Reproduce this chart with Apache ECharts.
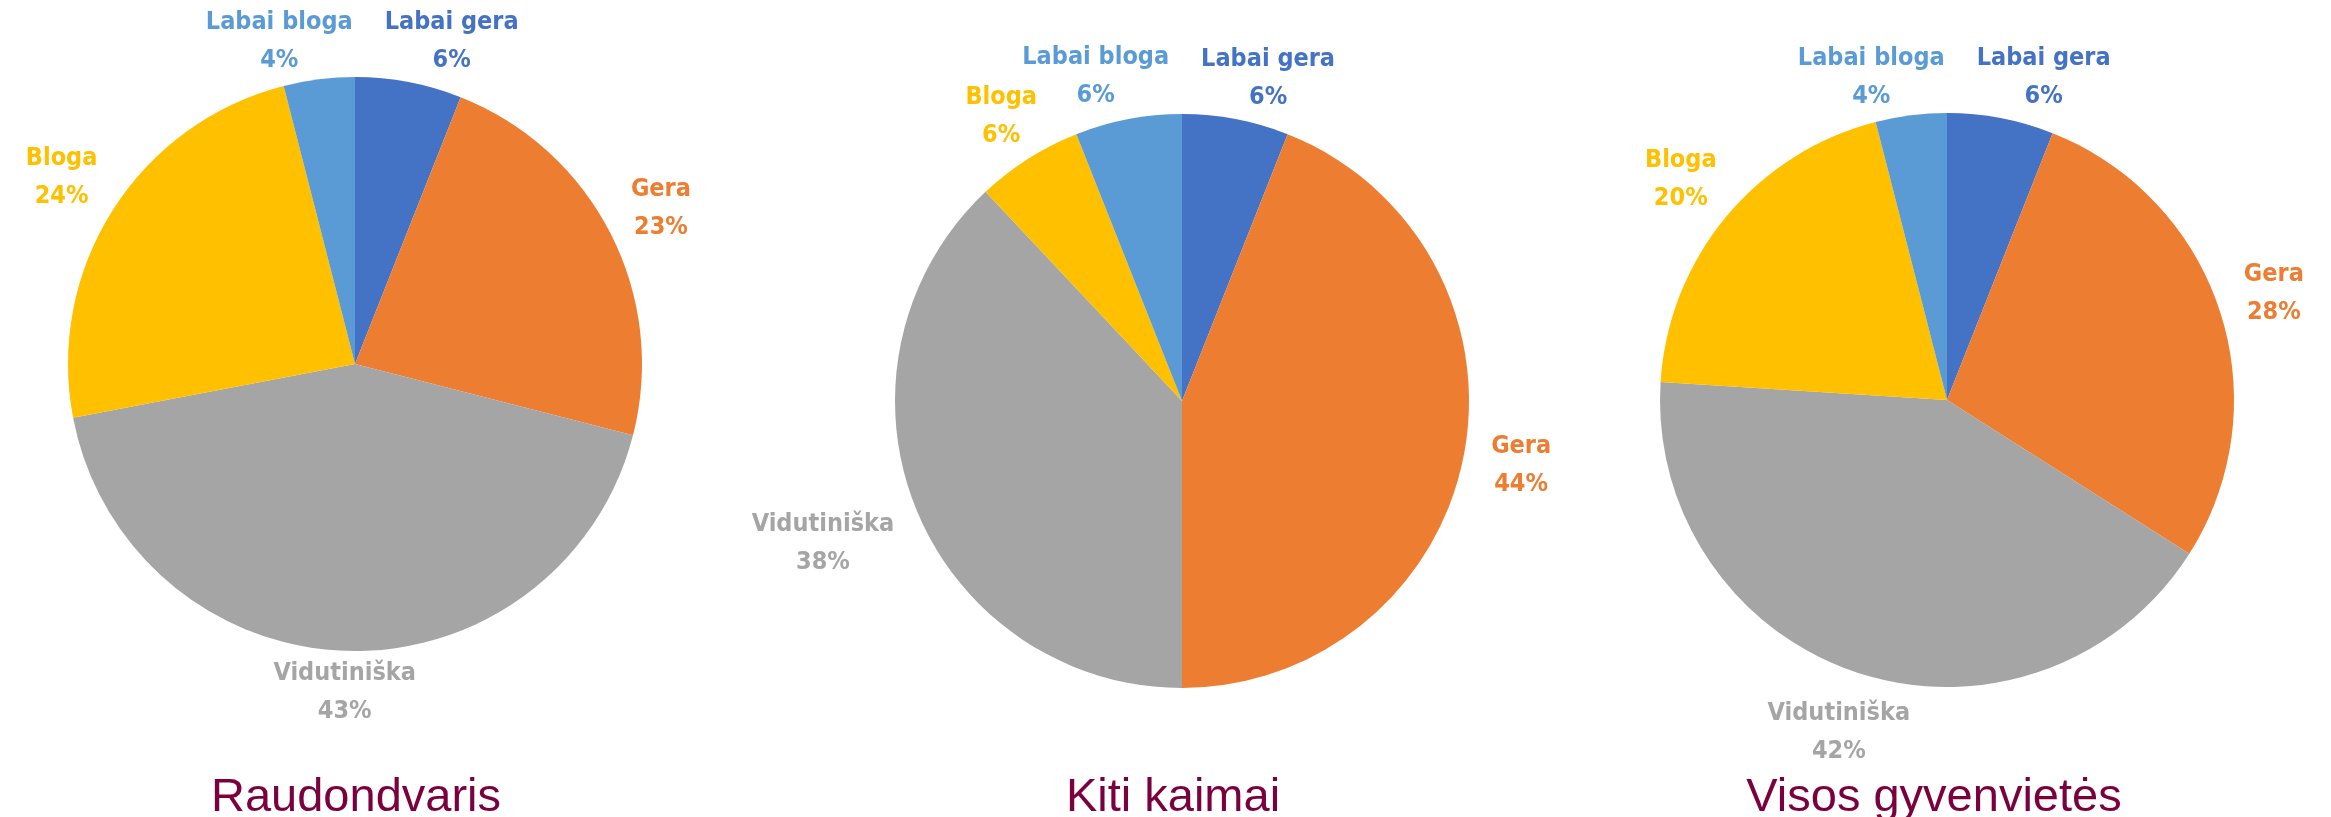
<!DOCTYPE html>
<html>
<head>
<meta charset="utf-8">
<title>Būklės vertinimas</title>
<script src="https://cdn.jsdelivr.net/npm/echarts@6/dist/echarts.min.js"></script>
<style>
  html, body { margin: 0; padding: 0; background: #fff; }
  #chart { width: 2331px; height: 817px; }
</style>
</head>
<body>
<div id="chart"></div>
<script>
const categories = ['Labai gera', 'Gera', 'Vidutiniška', 'Bloga', 'Labai bloga'];
const places = ['Raudondvaris', 'Kiti kaimai', 'Visos gyvenvietės'];
const raudondvaris = [6, 23, 43, 24, 4];
const kitiKaimai = [6, 44, 38, 6, 6];
const visosGyvenvietes = [6, 28, 42, 20, 4];
const seriesValues = [raudondvaris, kitiKaimai, visosGyvenvietes];

const colors = ['#4472c4', '#ed7d31', '#a5a5a5', '#ffc000', '#5b9bd5'];
const titleColor = '#7a003e';
const labelFont = '"DejaVu Sans Condensed", "Liberation Sans Narrow", sans-serif';
const labelSize = 25;
const labelLineHeight = 38;

// pie geometry in px
const pieCenters = [[355, 364], [1182, 401], [1947, 400]];
const pieRadius = 287;
const titleX = [351, 1168, 1929];
const titleTop = 770;
const labelGap = 12;
const labelPad = 12;
const collidePad = 16;

const measureCtx = document.createElement('canvas').getContext('2d');
measureCtx.font = 'bold ' + labelSize + 'px ' + labelFont;

// place each label outside its slice, centred on the slice's mid angle,
// then nudge sideways any labels of the same pie that collide
function labelPositions(values, center) {
  const total = values.reduce((a, b) => a + b, 0);
  let acc = 0;
  const items = values.map((v, i) => {
    const a = (acc + v / 2) / total * Math.PI * 2;
    acc += v;
    const lines = [categories[i], v + '%'];
    const w = Math.max(...lines.map(t => measureCtx.measureText(t).width)) / 2;
    const s = Math.sin(a), c = Math.cos(a);
    const hf = c > 0 ? 0.4 : 0.7;
    const d = pieRadius + labelGap + (w + labelPad) * Math.abs(s) + labelLineHeight * hf * Math.abs(c);
    return { x: center[0] + d * s, y: center[1] - d * c, w: w + collidePad, h: 17 };
  });
  for (let k = 0; k < 10; k++) {
    for (let i = 0; i < items.length; i++) {
      for (let j = i + 1; j < items.length; j++) {
        const p = items[i], q = items[j];
        const ox = p.w + q.w - Math.abs(p.x - q.x);
        const oy = p.h + q.h - Math.abs(p.y - q.y);
        if (ox > 0 && oy > 0) {
          const dir = p.x < q.x ? -1 : 1;
          p.x += dir * ox / 2;
          q.x -= dir * ox / 2;
        }
      }
    }
  }
  return items;
}

const chart = echarts.init(document.getElementById('chart'));

const series = seriesValues.map((values, si) => {
  const pos = labelPositions(values, pieCenters[si]);
  return {
    type: 'pie',
    center: pieCenters[si],
    radius: pieRadius,
    startAngle: 90,
    clockwise: true,
    avoidLabelOverlap: false,
    silent: true,
    data: values.map((v, i) => ({
      name: categories[i],
      value: v,
      itemStyle: { color: colors[i] },
      label: { color: colors[i] }
    })),
    label: {
      show: true,
      position: 'outside',
      formatter: '{b}\n{c}%',
      fontFamily: labelFont,
      fontWeight: 'bold',
      fontSize: labelSize,
      lineHeight: labelLineHeight,
      align: 'center'
    },
    labelLine: { show: false },
    labelLayout: function (params) {
      const p = pos[params.dataIndex];
      return { x: p.x, y: p.y, align: 'center', verticalAlign: 'middle' };
    },
    itemStyle: { borderWidth: 0 }
  };
});

const option = {
  animation: false,
  backgroundColor: '#ffffff',
  title: places.map((name, i) => ({
    text: name,
    left: titleX[i],
    top: titleTop,
    textAlign: 'center',
    textStyle: {
      fontFamily: '"Liberation Sans", Arial, sans-serif',
      fontSize: 47,
      fontWeight: 'normal',
      color: titleColor
    }
  })),
  series: series
};

chart.setOption(option);
window.addEventListener('resize', () => chart.resize());
</script>
</body>
</html>
